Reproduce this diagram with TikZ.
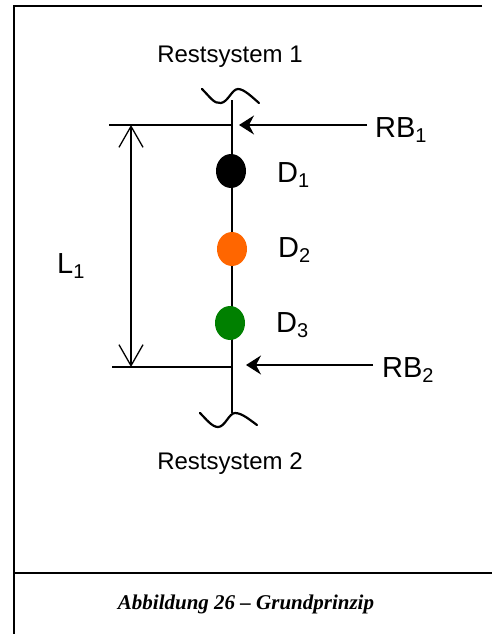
\documentclass[tikz,border=0pt]{standalone}
\usepackage{fontspec}
\setmainfont{Liberation Sans}
\newfontfamily\capfont{Liberation Serif}
\usetikzlibrary{arrows.meta,shapes.geometric}
\definecolor{dorange}{HTML}{FF6600}
\definecolor{dgreen}{HTML}{008000}
\newcommand{\mysub}[1]{\raisebox{-5pt}{\fontsize{20}{20}\selectfont #1}}
\begin{document}
\begin{tikzpicture}[x=1pt,y=-1pt,
  lbl/.style={inner sep=0pt,font=\fontsize{24}{28}\selectfont},
  biglbl/.style={inner sep=0pt,font=\fontsize{29}{33}\selectfont},
  frameline/.style={line width=2pt},
  rod/.style={line width=2pt},
  wave/.style={line width=2.2pt,line cap=round},
  dimline/.style={line width=1.3pt},
  dimarrow/.style={line width=1.3pt,{Straight Barb[length=21pt,width=24pt,line width=1.3pt]}-{Straight Barb[length=21pt,width=24pt,line width=1.3pt]}},
  force/.style={line width=1.3pt,-{Stealth[length=15pt,width=19pt,inset=5pt]}},
  dot/.style={ellipse,minimum width=30pt,minimum height=34pt,inner sep=0pt}
]
\useasboundingbox (0,0) rectangle (492,634);
% frame
\coordinate (ftl) at (14,6);
\coordinate (ftr) at (482,6);
\coordinate (fbl) at (14,634);
\coordinate (csl) at (14,573);
\coordinate (csr) at (492,573);
\draw[frameline] (ftr) -- (ftl) -- (fbl);
\draw[frameline] (csl) -- (csr);
% caption
\node[inner sep=0pt,anchor=base,font=\capfont\bfseries\itshape\fontsize{21}{25}\selectfont] (cap) at (246,609) {Abbildung 26 – Grundprinzip};
% rod
\coordinate (rtop) at (232,100);
\coordinate (rbot) at (232,413);
\draw[rod] (rtop) -- (rbot);
% waves
\draw[wave] (202,89) .. controls (210,97) and (214,104) .. (221,103) .. controls (228,102) and (232,89) .. (238,89) .. controls (244,89) and (252,97) .. (259,103);
\draw[wave] (200,413) .. controls (206,419) and (212,427) .. (218,427) .. controls (225,427) and (229,413) .. (235,413) .. controls (242,413) and (250,420) .. (257,425);
% dots
\node[dot,fill=black] (d1) at (231,171) {};
\node[dot,fill=dorange] (d2) at (232,249) {};
\node[dot,fill=dgreen] (d3) at (230,323) {};
\node[biglbl,anchor=base west] (l1) at (277,182) {D\mysub{1}};
\node[biglbl,anchor=base west] (l2) at (278,257) {D\mysub{2}};
\node[biglbl,anchor=base west] (l3) at (276,332) {D\mysub{3}};
% system labels
\node[lbl,anchor=base] (rs1) at (230,63) {Restsystem 1};
\node[lbl,anchor=base] (rs2) at (230,469) {Restsystem 2};
% dimension
\coordinate (dl1) at (109,125);
\coordinate (dr1) at (232,125);
\coordinate (dl2) at (112,367);
\coordinate (dr2) at (233,367);
\coordinate (dt) at (131,125);
\coordinate (db) at (131,367);
\draw[dimline] (dl1) -- (dr1);
\draw[dimline] (dl2) -- (dr2);
\draw[dimarrow] (dt) -- (db);
\node[biglbl,anchor=base west] (L) at (57,273) {L\mysub{1}};
% forces
\coordinate (f1s) at (367,125);
\coordinate (f1e) at (239,125);
\coordinate (f2s) at (373,365);
\coordinate (f2e) at (246,365);
\draw[force] (f1s) -- (f1e);
\draw[force] (f2s) -- (f2e);
\node[biglbl,anchor=base west] (rb1) at (375,137) {RB\mysub{1}};
\node[biglbl,anchor=base west] (rb2) at (382,377) {RB\mysub{2}};
\end{tikzpicture}
\end{document}
